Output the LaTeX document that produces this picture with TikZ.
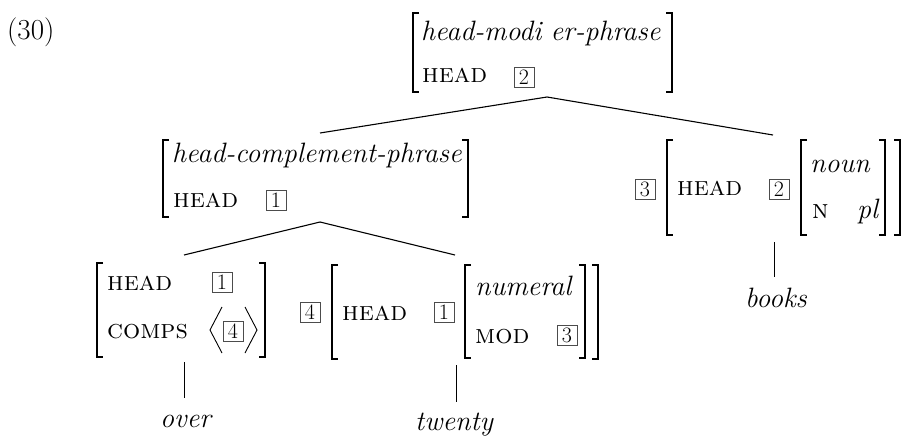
\documentclass[tikz,border=0pt]{standalone}
\begin{document}
\begin{tikzpicture}[x=1pt,y=-1pt,
  feat/.style={anchor=base west, inner sep=0pt, font=\fontsize{27}{30}\selectfont\scshape},
  val/.style={anchor=base west, inner sep=0pt, font=\fontsize{28}{30}\selectfont\itshape},
  plain/.style={anchor=base west, inner sep=0pt, font=\fontsize{29}{30}\selectfont},
  tagbox/.style={draw=black!70, line width=0.8pt, minimum width=20pt, minimum height=20pt, inner sep=0pt, font=\fontsize{22}{22}\selectfont},
  branch/.style={line width=1.1pt},
  brk/.style={line width=1.4pt}]
\useasboundingbox (0,0) rectangle (902,437);
\newcommand{\avmL}[3]{\draw[brk] (#1+6,#2) -- (#1,#2) -- (#1,#3) -- (#1+6,#3);}
\newcommand{\avmR}[3]{\draw[brk] (#1-6,#2) -- (#1,#2) -- (#1,#3) -- (#1-6,#3);}

% example number
\node[plain] (ex) at (7,39) {(30)};

% top AVM
\avmL{413}{13}{92}\avmR{672}{13}{92}
\node[val] (tType) at (421,40) {head-modi\hspace{9pt}er-phrase};
\node[feat] (tHead) at (422,82) {head};
\node[tagbox] (tTag) at (524,77) {2};

% branches from the top
\coordinate (apexA) at (547,97);
\coordinate (hcpTop) at (320,133);
\coordinate (rdTop) at (773,135);
\draw[branch] (apexA) -- (hcpTop);
\draw[branch] (apexA) -- (rdTop);

% head-complement-phrase AVM
\avmL{163}{140}{217}\avmR{468}{140}{217}
\node[val] (hType) at (172,162) {head-complement-phrase};
\node[feat] (hHead) at (173,207) {head};
\node[tagbox] (hTag) at (276,200) {1};

% right daughter (books)
\node[tagbox] (rTag3) at (645,189) {3};
\avmL{667}{140}{235}\avmR{900}{140}{235}
\node[feat] (rHead) at (677,195) {head};
\node[tagbox] (rTag2) at (779,189) {2};
\avmL{801}{140}{235}\avmR{885}{140}{235}
\node[val] (rNoun) at (810,172) {noun};
\node[feat] (rN) at (812,218) {n};
\node[val] (rPl) at (857,218) {pl};
\coordinate (bkA) at (774,242);
\coordinate (bkB) at (774,277);
\draw[line width=0.8pt] (bkA) -- (bkB);
\node[val] (books) at (745,307) {books};

% branches from head-complement-phrase
\coordinate (apexB) at (320,222);
\coordinate (ovTop) at (184,255);
\coordinate (twTop) at (455,255);
\draw[branch] (apexB) -- (ovTop);
\draw[branch] (apexB) -- (twTop);

% over AVM
\avmL{97}{263}{357}\avmR{265}{263}{357}
\node[feat] (oHead) at (107,290) {head};
\node[tagbox] (oTag1) at (222,282) {1};
\node[feat] (oComps) at (107,338) {comps};
\draw[line width=0.9pt] (222,307) -- (210,330) -- (222,353);
\node[tagbox] (oTag4) at (233,331) {4};
\draw[line width=0.9pt] (245,307) -- (257,330) -- (245,353);
\coordinate (ovA) at (184,362);
\coordinate (ovB) at (184,398);
\draw[line width=0.8pt] (ovA) -- (ovB);
\node[val] (over) at (160,427) {over};

% twenty AVM
\node[tagbox] (wTag4) at (310,312) {4};
\avmL{332}{265}{359}\avmR{598}{265}{359}
\node[feat] (wHead) at (342,320) {head};
\node[tagbox] (wTag1) at (444,312) {1};
\avmL{465}{265}{358}\avmR{585}{265}{358}
\node[val] (wNum) at (475,295) {numeral};
\node[feat] (wMod) at (475,343) {mod};
\node[tagbox] (wTag3) at (567,335) {3};
\coordinate (twA) at (456,365);
\coordinate (twB) at (456,402);
\draw[line width=0.8pt] (twA) -- (twB);
\node[val] (twenty) at (415,430) {twenty};
\end{tikzpicture}
\end{document}
